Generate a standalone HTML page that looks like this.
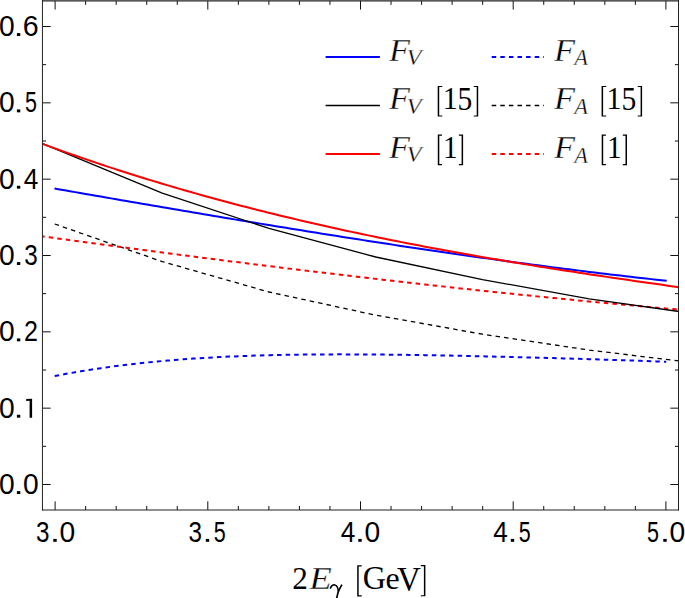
<!DOCTYPE html>
<html><head><meta charset="utf-8"><style>
html,body{margin:0;padding:0;background:#fff;}
body{width:685px;height:598px;overflow:hidden;}
svg{display:block;}
.tl{font-family:"Liberation Sans",sans-serif;font-size:28.6px;fill:#000;}
</style></head><body>
<svg width="685" height="598" viewBox="0 0 685 598">
<rect x="0" y="0" width="685" height="598" fill="#fff"/>
<defs><clipPath id="c"><rect x="42.5" y="0.85" width="636.0" height="509.15"/></clipPath></defs>
<g clip-path="url(#c)" fill="none" stroke-linejoin="round">
<path d="M54.70,376.02 L59.84,375.02 L64.98,374.06 L70.12,373.13 L75.25,372.22 L80.39,371.35 L85.53,370.51 L90.67,369.70 L95.81,368.91 L100.95,368.15 L106.09,367.42 L111.23,366.72 L116.36,366.04 L121.50,365.39 L126.64,364.76 L131.78,364.16 L136.92,363.58 L142.06,363.02 L147.20,362.48 L152.33,361.97 L157.47,361.48 L162.61,361.01 L167.75,360.56 L172.89,360.13 L178.03,359.72 L183.17,359.33 L188.31,358.96 L193.44,358.61 L198.58,358.27 L203.72,357.95 L208.86,357.65 L214.00,357.37 L219.14,357.10 L224.28,356.84 L229.41,356.60 L234.55,356.38 L239.69,356.17 L244.83,355.97 L249.97,355.79 L255.11,355.62 L260.25,355.46 L265.38,355.32 L270.52,355.18 L275.66,355.06 L280.80,354.95 L285.94,354.85 L291.08,354.76 L296.22,354.68 L301.36,354.61 L306.49,354.55 L311.63,354.50 L316.77,354.46 L321.91,354.43 L327.05,354.40 L332.19,354.38 L337.33,354.37 L342.46,354.37 L347.60,354.38 L352.74,354.39 L357.88,354.41 L363.02,354.43 L368.16,354.46 L373.30,354.50 L378.44,354.54 L383.57,354.59 L388.71,354.64 L393.85,354.70 L398.99,354.76 L404.13,354.83 L409.27,354.90 L414.41,354.98 L419.54,355.06 L424.68,355.14 L429.82,355.23 L434.96,355.32 L440.10,355.41 L445.24,355.51 L450.38,355.61 L455.52,355.72 L460.65,355.82 L465.79,355.93 L470.93,356.04 L476.07,356.16 L481.21,356.27 L486.35,356.39 L491.49,356.51 L496.62,356.64 L501.76,356.76 L506.90,356.89 L512.04,357.02 L517.18,357.15 L522.32,357.28 L527.46,357.42 L532.59,357.55 L537.73,357.69 L542.87,357.83 L548.01,357.97 L553.15,358.11 L558.29,358.26 L563.43,358.40 L568.57,358.55 L573.70,358.70 L578.84,358.85 L583.98,359.01 L589.12,359.16 L594.26,359.32 L599.40,359.48 L604.54,359.64 L609.67,359.80 L614.81,359.97 L619.95,360.14 L625.09,360.30 L630.23,360.48 L635.37,360.65 L640.51,360.83 L645.65,361.01 L650.78,361.19 L655.92,361.38 L661.06,361.56 L666.20,361.76" stroke="#0000ff" stroke-width="2" stroke-dasharray="4.5 4.1"/>
<path d="M54.70,224.00 L162.25,261.60 L269.00,292.00 L375.75,315.20 L482.50,334.20 L589.25,350.10 L696.00,363.00" stroke="#000" stroke-width="1.3" stroke-dasharray="4.5 4.1"/>
<path d="M40.20,236.04 L45.66,236.79 L51.12,237.54 L56.58,238.30 L62.04,239.04 L67.50,239.79 L72.96,240.54 L78.42,241.28 L83.88,242.02 L89.34,242.76 L94.81,243.50 L100.27,244.24 L105.73,244.98 L111.19,245.71 L116.65,246.44 L122.11,247.17 L127.57,247.90 L133.03,248.63 L138.49,249.36 L143.95,250.08 L149.41,250.80 L154.87,251.52 L160.33,252.24 L165.79,252.96 L171.25,253.67 L176.71,254.38 L182.17,255.09 L187.63,255.80 L193.09,256.51 L198.55,257.21 L204.02,257.92 L209.48,258.62 L214.94,259.32 L220.40,260.01 L225.86,260.71 L231.32,261.40 L236.78,262.09 L242.24,262.78 L247.70,263.47 L253.16,264.15 L258.62,264.83 L264.08,265.51 L269.54,266.19 L275.00,266.87 L280.46,267.54 L285.92,268.21 L291.38,268.88 L296.84,269.55 L302.30,270.21 L307.76,270.87 L313.23,271.53 L318.69,272.19 L324.15,272.85 L329.61,273.50 L335.07,274.15 L340.53,274.80 L345.99,275.44 L351.45,276.08 L356.91,276.73 L362.37,277.36 L367.83,278.00 L373.29,278.63 L378.75,279.26 L384.21,279.89 L389.67,280.52 L395.13,281.14 L400.59,281.76 L406.05,282.38 L411.51,282.99 L416.97,283.61 L422.44,284.22 L427.90,284.82 L433.36,285.43 L438.82,286.03 L444.28,286.63 L449.74,287.22 L455.20,287.82 L460.66,288.41 L466.12,289.00 L471.58,289.58 L477.04,290.17 L482.50,290.74 L487.96,291.32 L493.42,291.90 L498.88,292.47 L504.34,293.03 L509.80,293.60 L515.26,294.16 L520.72,294.72 L526.18,295.28 L531.65,295.83 L537.11,296.38 L542.57,296.93 L548.03,297.47 L553.49,298.01 L558.95,298.55 L564.41,299.09 L569.87,299.62 L575.33,300.15 L580.79,300.67 L586.25,301.20 L591.71,301.72 L597.17,302.23 L602.63,302.75 L608.09,303.25 L613.55,303.76 L619.01,304.26 L624.47,304.76 L629.93,305.26 L635.39,305.75 L640.86,306.24 L646.32,306.73 L651.78,307.21 L657.24,307.69 L662.70,308.17 L668.16,308.64 L673.62,309.11 L679.08,309.58 L684.54,310.04 L690.00,310.50" stroke="#ff0000" stroke-width="2" stroke-dasharray="4.5 4.1"/>
<path d="M54.50,188.56 L59.64,189.45 L64.79,190.35 L69.93,191.24 L75.08,192.13 L80.22,193.03 L85.37,193.92 L90.51,194.81 L95.66,195.70 L100.80,196.59 L105.95,197.48 L111.09,198.37 L116.23,199.26 L121.38,200.15 L126.52,201.03 L131.67,201.92 L136.81,202.80 L141.96,203.69 L147.10,204.57 L152.25,205.45 L157.39,206.33 L162.54,207.21 L167.68,208.09 L172.82,208.96 L177.97,209.84 L183.11,210.71 L188.26,211.59 L193.40,212.46 L198.55,213.33 L203.69,214.20 L208.84,215.06 L213.98,215.93 L219.13,216.79 L224.27,217.65 L229.41,218.51 L234.56,219.37 L239.70,220.23 L244.85,221.08 L249.99,221.93 L255.14,222.79 L260.28,223.63 L265.43,224.48 L270.57,225.33 L275.72,226.17 L280.86,227.01 L286.00,227.85 L291.15,228.68 L296.29,229.52 L301.44,230.35 L306.58,231.18 L311.73,232.01 L316.87,232.83 L322.02,233.65 L327.16,234.47 L332.31,235.29 L337.45,236.10 L342.59,236.91 L347.74,237.72 L352.88,238.53 L358.03,239.33 L363.17,240.13 L368.32,240.93 L373.46,241.72 L378.61,242.52 L383.75,243.30 L388.89,244.09 L394.04,244.87 L399.18,245.65 L404.33,246.43 L409.47,247.20 L414.62,247.97 L419.76,248.74 L424.91,249.50 L430.05,250.26 L435.20,251.02 L440.34,251.77 L445.48,252.52 L450.63,253.27 L455.77,254.01 L460.92,254.75 L466.06,255.48 L471.21,256.21 L476.35,256.94 L481.50,257.66 L486.64,258.38 L491.79,259.10 L496.93,259.81 L502.07,260.52 L507.22,261.22 L512.36,261.92 L517.51,262.62 L522.65,263.31 L527.80,264.00 L532.94,264.68 L538.09,265.36 L543.23,266.04 L548.38,266.71 L553.52,267.37 L558.66,268.03 L563.81,268.69 L568.95,269.34 L574.10,269.99 L579.24,270.63 L584.39,271.27 L589.53,271.91 L594.68,272.54 L599.82,273.16 L604.97,273.78 L610.11,274.39 L615.25,275.00 L620.40,275.61 L625.54,276.21 L630.69,276.80 L635.83,277.39 L640.98,277.98 L646.12,278.56 L651.27,279.13 L656.41,279.70 L661.56,280.26 L666.70,280.82" stroke="#0000ff" stroke-width="2"/>
<path d="M30.00,138.80 L42.50,143.70 L162.25,193.20 L269.00,228.40 L375.75,257.00 L482.50,279.60 L589.25,298.90 L696.00,313.90" stroke="#000" stroke-width="1.3"/>
<path d="M30.00,139.20 L35.55,141.28 L41.09,143.34 L46.64,145.38 L52.18,147.40 L57.73,149.41 L63.28,151.39 L68.82,153.35 L74.37,155.30 L79.92,157.22 L85.46,159.13 L91.01,161.02 L96.55,162.89 L102.10,164.75 L107.65,166.58 L113.19,168.40 L118.74,170.20 L124.29,171.98 L129.83,173.75 L135.38,175.50 L140.92,177.23 L146.47,178.94 L152.02,180.64 L157.56,182.32 L163.11,183.99 L168.66,185.64 L174.20,187.27 L179.75,188.89 L185.29,190.49 L190.84,192.07 L196.39,193.64 L201.93,195.20 L207.48,196.74 L213.03,198.26 L218.57,199.77 L224.12,201.26 L229.66,202.74 L235.21,204.21 L240.76,205.66 L246.30,207.09 L251.85,208.52 L257.39,209.92 L262.94,211.32 L268.49,212.70 L274.03,214.07 L279.58,215.42 L285.13,216.76 L290.67,218.09 L296.22,219.40 L301.76,220.71 L307.31,221.99 L312.86,223.27 L318.40,224.54 L323.95,225.79 L329.50,227.03 L335.04,228.26 L340.59,229.47 L346.13,230.68 L351.68,231.87 L357.23,233.05 L362.77,234.22 L368.32,235.38 L373.87,236.53 L379.41,237.67 L384.96,238.80 L390.50,239.92 L396.05,241.02 L401.60,242.12 L407.14,243.21 L412.69,244.28 L418.24,245.35 L423.78,246.41 L429.33,247.46 L434.87,248.49 L440.42,249.52 L445.97,250.54 L451.51,251.56 L457.06,252.56 L462.61,253.55 L468.15,254.54 L473.70,255.52 L479.24,256.49 L484.79,257.45 L490.34,258.40 L495.88,259.35 L501.43,260.28 L506.97,261.22 L512.52,262.14 L518.07,263.06 L523.61,263.97 L529.16,264.87 L534.71,265.76 L540.25,266.65 L545.80,267.54 L551.34,268.41 L556.89,269.28 L562.44,270.15 L567.98,271.01 L573.53,271.86 L579.08,272.71 L584.62,273.55 L590.17,274.39 L595.71,275.22 L601.26,276.05 L606.81,276.87 L612.35,277.69 L617.90,278.50 L623.45,279.31 L628.99,280.11 L634.54,280.91 L640.08,281.71 L645.63,282.50 L651.18,283.29 L656.72,284.08 L662.27,284.86 L667.82,285.64 L673.36,286.42 L678.91,287.19 L684.45,287.96 L690.00,288.73" stroke="#ff0000" stroke-width="2"/>
</g>
<path d="M55.10,510.0V501.3 M55.10,0.85V9.549999999999999 M85.64,510.0V506.0 M85.64,0.85V4.85 M116.18,510.0V506.0 M116.18,0.85V4.85 M146.72,510.0V506.0 M146.72,0.85V4.85 M177.26,510.0V506.0 M177.26,0.85V4.85 M207.80,510.0V501.3 M207.80,0.85V9.549999999999999 M238.34,510.0V506.0 M238.34,0.85V4.85 M268.88,510.0V506.0 M268.88,0.85V4.85 M299.42,510.0V506.0 M299.42,0.85V4.85 M329.96,510.0V506.0 M329.96,0.85V4.85 M360.50,510.0V501.3 M360.50,0.85V9.549999999999999 M391.04,510.0V506.0 M391.04,0.85V4.85 M421.58,510.0V506.0 M421.58,0.85V4.85 M452.12,510.0V506.0 M452.12,0.85V4.85 M482.66,510.0V506.0 M482.66,0.85V4.85 M513.20,510.0V501.3 M513.20,0.85V9.549999999999999 M543.74,510.0V506.0 M543.74,0.85V4.85 M574.28,510.0V506.0 M574.28,0.85V4.85 M604.82,510.0V506.0 M604.82,0.85V4.85 M635.36,510.0V506.0 M635.36,0.85V4.85 M665.90,510.0V501.3 M665.90,0.85V9.549999999999999 M42.5,484.50H50.7 M678.5,484.50H670.3 M42.5,446.33H46.1 M678.5,446.33H674.9 M42.5,408.17H50.7 M678.5,408.17H670.3 M42.5,370.00H46.1 M678.5,370.00H674.9 M42.5,331.83H50.7 M678.5,331.83H670.3 M42.5,293.67H46.1 M678.5,293.67H674.9 M42.5,255.50H50.7 M678.5,255.50H670.3 M42.5,217.33H46.1 M678.5,217.33H674.9 M42.5,179.17H50.7 M678.5,179.17H670.3 M42.5,141.00H46.1 M678.5,141.00H674.9 M42.5,102.83H50.7 M678.5,102.83H670.3 M42.5,64.67H46.1 M678.5,64.67H674.9 M42.5,26.50H50.7 M678.5,26.50H670.3" stroke="#111" stroke-width="1.0" fill="none"/>
<path d="M42.45,0V510.5 M678.5,0V510.5" stroke="#222" stroke-width="1.0" fill="none"/>
<path d="M42,0.85H679 M42,510.0H679" stroke="#222" stroke-width="1.2" fill="none"/>
<g class="tl">
<text transform="translate(-1.00,494.00) scale(0.987,1)" style="font-family:'Liberation Sans',sans-serif;font-style:normal;font-size:28.60px">0</text><rect x="16.90" y="491.10" width="3.4" height="2.9"/><text transform="translate(23.05,494.00) scale(0.987,1)" style="font-family:'Liberation Sans',sans-serif;font-style:normal;font-size:28.60px">0</text>
<text transform="translate(-1.00,417.67) scale(0.987,1)" style="font-family:'Liberation Sans',sans-serif;font-style:normal;font-size:28.60px">0</text><rect x="16.90" y="414.77" width="3.4" height="2.9"/><path d="M26.20,398.97L32.10,398.77V417.67H29.60V400.87L26.20,400.97Z"/>
<text transform="translate(-1.00,341.33) scale(0.987,1)" style="font-family:'Liberation Sans',sans-serif;font-style:normal;font-size:28.60px">0</text><rect x="16.90" y="338.43" width="3.4" height="2.9"/><text transform="translate(23.94,341.33) scale(0.875,1)" style="font-family:'Liberation Sans',sans-serif;font-style:normal;font-size:28.60px">2</text>
<text transform="translate(-1.00,265.00) scale(0.987,1)" style="font-family:'Liberation Sans',sans-serif;font-style:normal;font-size:28.60px">0</text><rect x="16.90" y="262.10" width="3.4" height="2.9"/><text transform="translate(24.23,265.00) scale(0.848,1)" style="font-family:'Liberation Sans',sans-serif;font-style:normal;font-size:28.60px">3</text>
<text transform="translate(-1.00,188.67) scale(0.987,1)" style="font-family:'Liberation Sans',sans-serif;font-style:normal;font-size:28.60px">0</text><rect x="16.90" y="185.77" width="3.4" height="2.9"/><text transform="translate(23.70,188.67) scale(0.916,1)" style="font-family:'Liberation Sans',sans-serif;font-style:normal;font-size:28.60px">4</text>
<text transform="translate(-1.00,112.33) scale(0.987,1)" style="font-family:'Liberation Sans',sans-serif;font-style:normal;font-size:28.60px">0</text><rect x="16.90" y="109.43" width="3.4" height="2.9"/><text transform="translate(24.94,112.33) scale(0.752,1)" style="font-family:'Liberation Sans',sans-serif;font-style:normal;font-size:28.60px">5</text>
<text transform="translate(-1.00,36.00) scale(0.987,1)" style="font-family:'Liberation Sans',sans-serif;font-style:normal;font-size:28.60px">0</text><rect x="16.90" y="33.10" width="3.4" height="2.9"/><text transform="translate(22.85,36.00) scale(1.000,1)" style="font-family:'Liberation Sans',sans-serif;font-style:normal;font-size:28.60px">6</text>
<text transform="translate(35.88,541.80) scale(0.848,1)" style="font-family:'Liberation Sans',sans-serif;font-style:normal;font-size:28.60px">3</text><rect x="53.30" y="538.90" width="3.4" height="2.9"/><text transform="translate(59.45,541.80) scale(0.987,1)" style="font-family:'Liberation Sans',sans-serif;font-style:normal;font-size:28.60px">0</text>
<text transform="translate(188.38,541.80) scale(0.848,1)" style="font-family:'Liberation Sans',sans-serif;font-style:normal;font-size:28.60px">3</text><rect x="205.80" y="538.90" width="3.4" height="2.9"/><text transform="translate(213.84,541.80) scale(0.752,1)" style="font-family:'Liberation Sans',sans-serif;font-style:normal;font-size:28.60px">5</text>
<text transform="translate(340.70,541.80) scale(0.916,1)" style="font-family:'Liberation Sans',sans-serif;font-style:normal;font-size:28.60px">4</text><rect x="358.30" y="538.90" width="3.4" height="2.9"/><text transform="translate(364.45,541.80) scale(0.987,1)" style="font-family:'Liberation Sans',sans-serif;font-style:normal;font-size:28.60px">0</text>
<text transform="translate(493.20,541.80) scale(0.916,1)" style="font-family:'Liberation Sans',sans-serif;font-style:normal;font-size:28.60px">4</text><rect x="510.80" y="538.90" width="3.4" height="2.9"/><text transform="translate(518.84,541.80) scale(0.752,1)" style="font-family:'Liberation Sans',sans-serif;font-style:normal;font-size:28.60px">5</text>
<text transform="translate(647.04,541.80) scale(0.752,1)" style="font-family:'Liberation Sans',sans-serif;font-style:normal;font-size:28.60px">5</text><rect x="663.30" y="538.90" width="3.4" height="2.9"/><text transform="translate(669.45,541.80) scale(0.987,1)" style="font-family:'Liberation Sans',sans-serif;font-style:normal;font-size:28.60px">0</text>
</g>
<path d="M325.6,57.0H379.9" stroke="#0000ff" stroke-width="2" fill="none"/>
<path d="M491.7,57.0H544.0" stroke="#0000ff" stroke-width="2" fill="none" stroke-dasharray="4.5 4.1"/>
<path d="M325.6,105.5H379.9" stroke="#000000" stroke-width="1.3" fill="none"/>
<path d="M491.7,105.5H544.0" stroke="#000000" stroke-width="1.3" fill="none" stroke-dasharray="4.5 4.1"/>
<path d="M325.6,154.0H379.9" stroke="#ff0000" stroke-width="2" fill="none"/>
<path d="M491.7,154.0H544.0" stroke="#ff0000" stroke-width="2" fill="none" stroke-dasharray="4.5 4.1"/>
<g fill="#000">
<text transform="translate(389.08,60.70) scale(1.058,1)" stroke="#fff" stroke-width="0.35" style="font-family:'Liberation Serif',serif;font-style:italic;font-size:32.38px">F</text>
<text transform="translate(406.42,65.27) scale(1.113,1)" stroke="#fff" stroke-width="0.35" style="font-family:'Liberation Serif',serif;font-style:italic;font-size:22.09px">V</text>
<text transform="translate(553.98,60.70) scale(1.063,1)" stroke="#fff" stroke-width="0.35" style="font-family:'Liberation Serif',serif;font-style:italic;font-size:32.38px">F</text>
<text transform="translate(574.23,65.30) scale(1.007,1)" stroke="#fff" stroke-width="0.35" style="font-family:'Liberation Serif',serif;font-style:italic;font-size:22.27px">A</text>
<text transform="translate(389.08,109.30) scale(1.058,1)" stroke="#fff" stroke-width="0.35" style="font-family:'Liberation Serif',serif;font-style:italic;font-size:32.38px">F</text>
<text transform="translate(406.42,113.87) scale(1.113,1)" stroke="#fff" stroke-width="0.35" style="font-family:'Liberation Serif',serif;font-style:italic;font-size:22.09px">V</text>
<text transform="translate(553.98,109.30) scale(1.063,1)" stroke="#fff" stroke-width="0.35" style="font-family:'Liberation Serif',serif;font-style:italic;font-size:32.38px">F</text>
<text transform="translate(574.23,113.90) scale(1.007,1)" stroke="#fff" stroke-width="0.35" style="font-family:'Liberation Serif',serif;font-style:italic;font-size:22.27px">A</text>
<text transform="translate(389.08,157.90) scale(1.058,1)" stroke="#fff" stroke-width="0.35" style="font-family:'Liberation Serif',serif;font-style:italic;font-size:32.38px">F</text>
<text transform="translate(406.42,162.47) scale(1.113,1)" stroke="#fff" stroke-width="0.35" style="font-family:'Liberation Serif',serif;font-style:italic;font-size:22.09px">V</text>
<text transform="translate(553.98,157.90) scale(1.063,1)" stroke="#fff" stroke-width="0.35" style="font-family:'Liberation Serif',serif;font-style:italic;font-size:32.38px">F</text>
<text transform="translate(574.23,162.50) scale(1.007,1)" stroke="#fff" stroke-width="0.35" style="font-family:'Liberation Serif',serif;font-style:italic;font-size:22.27px">A</text>
<text transform="translate(442.68,109.30) scale(0.929,1)" style="font-family:'Liberation Serif',serif;font-style:normal;font-size:32.11px">1</text>
<text transform="translate(457.58,109.68) scale(0.896,1)" style="font-family:'Liberation Serif',serif;font-style:normal;font-size:32.95px">5</text>
<text transform="translate(443.03,157.90) scale(0.920,1)" style="font-family:'Liberation Serif',serif;font-style:normal;font-size:31.81px">1</text>
<text transform="translate(606.58,109.30) scale(0.929,1)" style="font-family:'Liberation Serif',serif;font-style:normal;font-size:32.11px">1</text>
<text transform="translate(621.48,109.68) scale(0.896,1)" style="font-family:'Liberation Serif',serif;font-style:normal;font-size:32.95px">5</text>
<text transform="translate(606.93,157.90) scale(0.920,1)" style="font-family:'Liberation Serif',serif;font-style:normal;font-size:31.81px">1</text>
<text transform="translate(292.33,588.90) scale(0.983,1)" style="font-family:'Liberation Serif',serif;font-style:normal;font-size:31.72px">2</text>
<text transform="translate(309.23,588.90) scale(1.163,1)" stroke="#fff" stroke-width="0.35" style="font-family:'Liberation Serif',serif;font-style:italic;font-size:31.77px">E</text>
<text transform="translate(362.78,589.27) scale(0.939,1)" style="font-family:'Liberation Serif',serif;font-style:normal;font-size:34.23px">G</text>
<text transform="translate(385.55,589.30) scale(1.036,1)" style="font-family:'Liberation Serif',serif;font-style:normal;font-size:30.77px">e</text>
<text transform="translate(396.93,589.58) scale(0.962,1)" style="font-family:'Liberation Serif',serif;font-style:normal;font-size:34.18px">V</text>
<path d="M437.70,86.00H442.30V87.10H439.20V115.50H442.30V116.60H437.70Z"/>
<path d="M478.20,86.00H473.80V87.10H476.70V115.50H473.80V116.60H478.20Z"/>
<path d="M437.80,134.60H442.00V135.70H439.30V164.10H442.00V165.20H437.80Z"/>
<path d="M463.10,134.60H458.90V135.70H461.60V164.10H458.90V165.20H463.10Z"/>
<path d="M601.60,86.00H606.20V87.10H603.10V115.50H606.20V116.60H601.60Z"/>
<path d="M642.10,86.00H637.70V87.10H640.60V115.50H637.70V116.60H642.10Z"/>
<path d="M601.70,134.60H605.90V135.70H603.20V164.10H605.90V165.20H601.70Z"/>
<path d="M627.00,134.60H622.80V135.70H625.50V164.10H622.80V165.20H627.00Z"/>
<path d="M330.2,588.6 C331.4,585.6 333.2,584.7 334.8,584.9 C337.2,585.2 338.1,588.2 338.3,591.5" fill="none" stroke="#000" stroke-width="1.5"/>
<path d="M341.9,584.6 C340.6,586.8 339.0,589.6 338.0,592.6 L336.6,598.6" fill="none" stroke="#000" stroke-width="1.7"/>
<path d="M357.20,565.30H361.70V566.40H358.70V595.30H361.70V596.40H357.20Z"/>
<path d="M425.40,565.10H420.80V566.20H423.90V595.20H420.80V596.30H425.40Z"/>
</g>
</svg>
</body></html>
